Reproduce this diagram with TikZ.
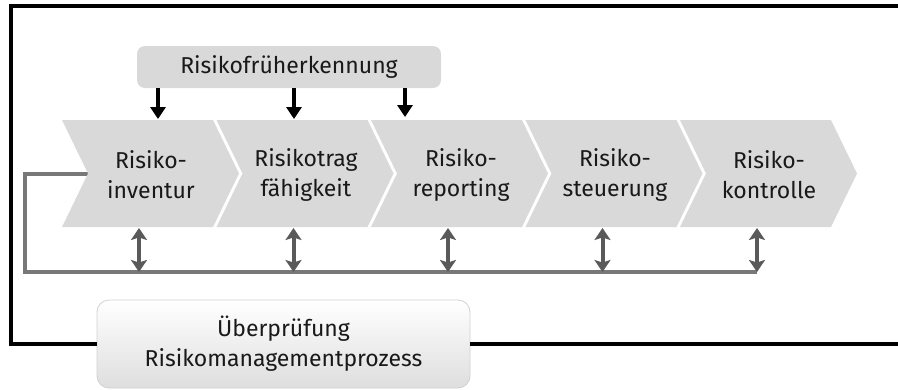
\documentclass[tikz,border=0pt]{standalone}
\usepackage{fontspec}
\setmainfont{Fira Sans}
\usetikzlibrary{arrows.meta}
\definecolor{chevgray}{RGB}{217,217,217}
\definecolor{linegray}{RGB}{120,120,120}
\definecolor{arrgray}{RGB}{90,90,90}
\definecolor{txtcol}{RGB}{25,25,25}
\tikzset{
  chev/.style={fill=chevgray, draw=none},
  lbl/.style={align=center, text=txtcol, font=\fontsize{23}{30}\selectfont},
  dnarr/.style={line width=3.5pt, -{Triangle[width=15pt,length=12pt]}},
  dblarr/.style={line width=4pt, arrgray, {Stealth[width=16pt,length=12pt,inset=2.5pt]}-{Stealth[width=16pt,length=12pt,inset=2.5pt]}},
  frame/.style={line width=4pt, black},
}
\begin{document}
\begin{tikzpicture}[x=1pt,y=-1pt]
    \clip (0,0) rectangle (898,389);
    % feedback line (behind the chevrons)
    \coordinate (notch) at (88,173.5);
    \coordinate (lc) at (25,272);
    \coordinate (d1) at (139,272);
    \coordinate (d2) at (293.5,272);
    \coordinate (d3) at (448,272);
    \coordinate (d4) at (602.5,272);
    \coordinate (d5) at (757,272);
    \draw [line width=4pt, linegray] (notch) -| (lc) -- (d5);
    % process chevrons
    \fill [chev] (62,120) -- ++(151,0) -- ++(26,53.5) -- ++(-26,53.5) -- ++(-151,0) -- ++(26,-53.5) -- cycle;
    \fill [chev] (216.5,120) -- ++(151,0) -- ++(26,53.5) -- ++(-26,53.5) -- ++(-151,0) -- ++(26,-53.5) -- cycle;
    \fill [chev] (371,120) -- ++(151,0) -- ++(26,53.5) -- ++(-26,53.5) -- ++(-151,0) -- ++(26,-53.5) -- cycle;
    \fill [chev] (525.5,120) -- ++(151,0) -- ++(26,53.5) -- ++(-26,53.5) -- ++(-151,0) -- ++(26,-53.5) -- cycle;
    \fill [chev] (680,120) -- ++(151,0) -- ++(26,53.5) -- ++(-26,53.5) -- ++(-151,0) -- ++(26,-53.5) -- cycle;
    \node [lbl] (inv) at (151,175) {Risiko-\\inventur};
    \node [lbl] (trag) at (306,175) {Risikotrag\\fähigkeit};
    \node [lbl] (rep) at (461,175) {Risiko-\\reporting};
    \node [lbl] (steu) at (615,175) {Risiko-\\steuerung};
    \node [lbl] (kont) at (769,175) {Risiko-\\kontrolle};
    % double arrows to the feedback line
    \coordinate (u1) at (139,228);
    \coordinate (u2) at (293.5,228);
    \coordinate (u3) at (448,228);
    \coordinate (u4) at (602.5,228);
    \coordinate (u5) at (757,228);
    \draw [dblarr] (u1) -- (d1);
    \draw [dblarr] (u2) -- (d2);
    \draw [dblarr] (u3) -- (d3);
    \draw [dblarr] (u4) -- (d4);
    \draw [dblarr] (u5) -- (d5);
    % early warning
    \node [lbl, fill=chevgray, rounded corners=8pt, minimum width=304pt, minimum height=42pt, inner sep=0pt] (frueh) at (289,67) {Risikofrüherkennung};
    \coordinate (a1) at (158,119);
    \coordinate (a2) at (294,119);
    \coordinate (a3) at (405,117);
    \draw [dnarr] (frueh.south -| a1) -- (a1);
    \draw [dnarr] (frueh.south -| a2) -- (a2);
    \draw [dnarr] (frueh.south -| a3) -- (a3);
    % review box and outer frame
    \node [lbl, draw=black!18, line width=0.8pt, rounded corners=12pt, top color=white, bottom color=black!13,
           minimum width=373pt, minimum height=88pt, inner sep=0pt] (pruef) at (283.5,344) {Überprüfung\\Risikomanagementprozess};
    \coordinate (fl) at (11,6);
    \coordinate (fr) at (910,6);
    \coordinate (br) at (910,344);
    \draw [frame] (pruef.west) -| (fl) -- (fr);
    \draw [frame] (pruef.east) -- (br);
\end{tikzpicture}
\end{document}
